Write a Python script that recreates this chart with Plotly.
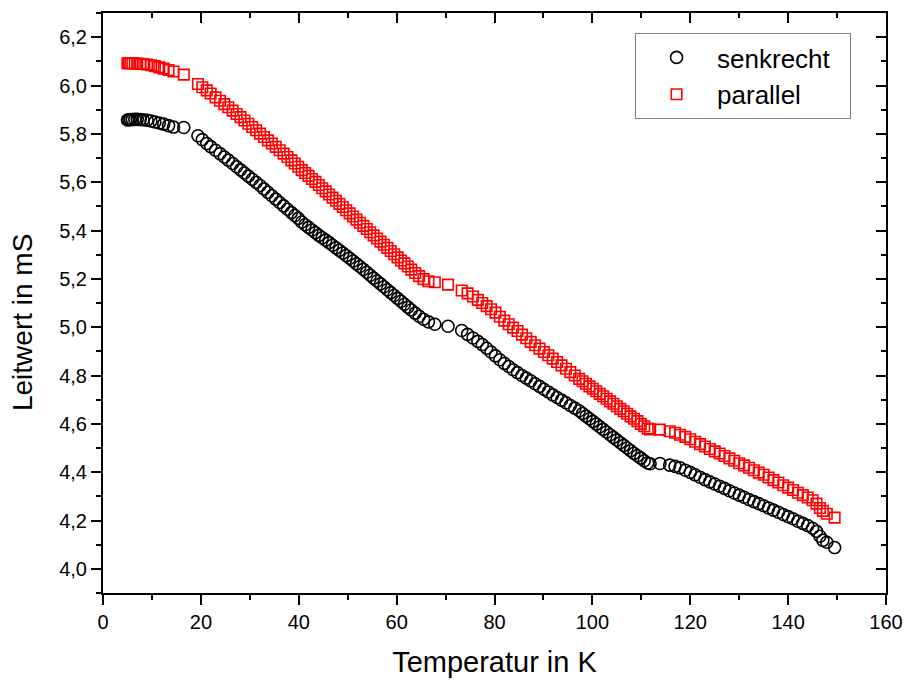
import plotly.graph_objects as go

# Temperatur-Messpunkte (K), gemeinsam für beide Orientierungen
temperatur = [
    5.0, 5.3, 5.6, 6.0, 6.5, 7.0, 7.6, 8.2, 9.0, 9.8, 10.6, 11.5, 12.4, 13.4, 14.4, 16.5,
    19.4, 20.3, 21.2, 22.0, 23.0, 23.9, 24.8, 25.6, 26.5, 27.3, 28.1, 28.9, 29.7, 30.5,
    31.3, 32.1, 32.9, 33.7, 34.5, 35.3, 36.1, 36.9, 37.7, 38.5, 39.2, 39.9,
    40.6, 41.3, 42.0, 42.7, 43.4, 44.1, 44.8, 45.5, 46.2, 46.9, 47.6, 48.3, 49.0, 49.7,
    50.4, 51.1, 51.8, 52.5, 53.2, 53.9, 54.6, 55.3, 56.0, 56.7, 57.4, 58.1, 58.8, 59.5,
    60.2, 60.9, 61.6, 62.3, 63.0, 63.8, 64.6, 65.5, 66.5,
    67.8, 70.5, 73.3, 74.5, 75.6, 76.6, 77.5, 78.4, 79.3, 80.2, 81.1, 82.0, 82.9, 83.8,
    84.7, 85.6, 86.5, 87.4, 88.3, 89.2, 90.1, 91.0, 91.9, 92.8, 93.7, 94.6, 95.5, 96.4, 97.3,
    98.0, 98.7, 99.4, 100.1, 100.8, 101.5, 102.2, 102.9, 103.6, 104.3, 105.0, 105.7, 106.4,
    107.1, 107.8, 108.5, 109.2, 109.9, 110.6, 111.3, 111.8,
    113.8, 115.8, 116.9, 117.9, 119.0, 120.0, 121.0, 122.0, 123.0, 124.0, 125.0, 126.0,
    127.0, 128.0, 129.0, 130.0, 131.0, 132.0, 133.0, 134.0, 135.0, 136.0, 137.0, 138.0,
    139.0, 140.0, 141.0, 142.0, 143.0, 144.0, 145.0, 145.8, 146.5, 147.1, 147.9, 149.5,
]

# Leitwert senkrecht (mS)
senkrecht = [
    5.857, 5.858, 5.859, 5.859, 5.860, 5.860, 5.859, 5.858, 5.856, 5.853, 5.849, 5.845, 5.840, 5.834, 5.828, 5.826,
    5.792, 5.776, 5.760, 5.747, 5.732, 5.718, 5.704, 5.691, 5.677, 5.664, 5.651, 5.638, 5.625, 5.612,
    5.599, 5.586, 5.572, 5.558, 5.544, 5.530, 5.516, 5.502, 5.488, 5.474, 5.462, 5.450,
    5.435, 5.424, 5.413, 5.402, 5.391, 5.380, 5.370, 5.360, 5.350, 5.339, 5.328, 5.318, 5.307, 5.296,
    5.285, 5.274, 5.262, 5.251, 5.239, 5.227, 5.215, 5.203, 5.191, 5.179, 5.167, 5.155, 5.143, 5.131,
    5.119, 5.107, 5.095, 5.083, 5.071, 5.058, 5.045, 5.033, 5.022,
    5.012, 5.004, 4.986, 4.970, 4.955, 4.941, 4.928, 4.913, 4.897, 4.881, 4.865, 4.850, 4.837, 4.824,
    4.812, 4.800, 4.789, 4.778, 4.766, 4.755, 4.743, 4.732, 4.720, 4.709, 4.698, 4.687, 4.676, 4.665, 4.654,
    4.643, 4.632, 4.621, 4.610, 4.599, 4.588, 4.577, 4.566, 4.555, 4.544, 4.533, 4.522, 4.511,
    4.500, 4.489, 4.478, 4.468, 4.458, 4.447, 4.438, 4.435,
    4.436, 4.429, 4.424, 4.418, 4.408, 4.399, 4.389, 4.379, 4.369, 4.360, 4.351, 4.342,
    4.333, 4.323, 4.314, 4.305, 4.296, 4.287, 4.278, 4.270, 4.261, 4.252, 4.243, 4.234,
    4.225, 4.216, 4.207, 4.197, 4.188, 4.179, 4.168, 4.155, 4.135, 4.118, 4.110, 4.088,
]

# Leitwert parallel (mS)
parallel = [
    6.092, 6.092, 6.092, 6.092, 6.091, 6.091, 6.090, 6.089, 6.087, 6.084, 6.080, 6.075, 6.070, 6.064, 6.058, 6.045,
    6.006, 5.993, 5.980, 5.967, 5.951, 5.937, 5.923, 5.910, 5.896, 5.882, 5.869, 5.855, 5.842, 5.828,
    5.815, 5.801, 5.787, 5.773, 5.760, 5.746, 5.732, 5.718, 5.704, 5.690, 5.677, 5.664,
    5.650, 5.638, 5.626, 5.613, 5.601, 5.588, 5.575, 5.562, 5.549, 5.536, 5.523, 5.510, 5.497, 5.484,
    5.471, 5.458, 5.445, 5.432, 5.419, 5.406, 5.393, 5.380, 5.367, 5.354, 5.341, 5.328, 5.315, 5.302,
    5.289, 5.276, 5.264, 5.251, 5.238, 5.224, 5.211, 5.199, 5.190,
    5.186, 5.176, 5.152, 5.140, 5.127, 5.113, 5.100, 5.087, 5.074, 5.060, 5.043, 5.027, 5.012, 4.998,
    4.984, 4.969, 4.954, 4.939, 4.925, 4.911, 4.897, 4.884, 4.870, 4.856, 4.842, 4.828, 4.814, 4.800, 4.786,
    4.776, 4.766, 4.755, 4.745, 4.735, 4.724, 4.714, 4.704, 4.693, 4.683, 4.673, 4.662, 4.652,
    4.642, 4.631, 4.621, 4.611, 4.600, 4.590, 4.580, 4.577,
    4.576, 4.569, 4.563, 4.555, 4.546, 4.536, 4.526, 4.516, 4.506, 4.496, 4.486, 4.477,
    4.467, 4.457, 4.447, 4.437, 4.428, 4.418, 4.408, 4.398, 4.389, 4.378, 4.367, 4.357,
    4.346, 4.336, 4.326, 4.315, 4.305, 4.295, 4.284, 4.270, 4.252, 4.240, 4.228, 4.212,
]

x_range = [0, 160]
y_range = [3.9, 6.3]

FONT = "Arial, Liberation Sans, sans-serif"
PAD = "\u00a0\u00a0"  # a little room after the legend text

fig = go.Figure()

fig.add_trace(go.Scatter(
    x=temperatur, y=senkrecht, mode="markers", name="senkrecht" + PAD,
    marker=dict(symbol="circle-open", size=12, color="black", line=dict(width=1.6, color="black")),
))
fig.add_trace(go.Scatter(
    x=temperatur, y=parallel, mode="markers", name="parallel",
    marker=dict(symbol="square-open", size=10.5, color="red", line=dict(width=1.6, color="red")),
))
# empty trace that carries the top/right tick axes
fig.add_trace(go.Scatter(x=[None], y=[None], xaxis="x2", yaxis="y2",
                         showlegend=False, hoverinfo="skip"))

axis_common = dict(
    showgrid=False, zeroline=False, showline=True, linecolor="black", linewidth=2,
    ticks="outside", ticklen=10, tickwidth=2, tickcolor="black", automargin=False,
    tickfont=dict(family=FONT, size=20, color="black"),
)

fig.update_layout(
    width=907, height=684,
    margin=dict(l=103, r=21, t=13, b=91),
    paper_bgcolor="white", plot_bgcolor="white",
    separators=",.",
    font=dict(family=FONT, color="black"),
    xaxis=dict(
        range=x_range, tick0=0, dtick=20, mirror=True,
        minor=dict(dtick=10, ticklen=5, tickwidth=2, ticks="outside", tickcolor="black"),
        title=dict(text="Temperatur in K", font=dict(family=FONT, size=29), standoff=20),
        **axis_common,
    ),
    yaxis=dict(
        range=y_range, tick0=4.0, dtick=0.2, tickformat=".1f", mirror=True,
        minor=dict(dtick=0.1, ticklen=5, tickwidth=2, ticks="outside", tickcolor="black"),
        **axis_common,
    ),
    xaxis2=dict(
        range=x_range, overlaying="x", side="top", anchor="y", tick0=0, dtick=20,
        showgrid=False, zeroline=False, showline=False, showticklabels=False, automargin=False,
        ticks="inside", ticklen=10, tickwidth=2, tickcolor="black",
        minor=dict(dtick=10, ticklen=5, tickwidth=2, ticks="inside", tickcolor="black"),
    ),
    yaxis2=dict(
        range=y_range, overlaying="y", side="right", anchor="x", tick0=4.0, dtick=0.2,
        showgrid=False, zeroline=False, showline=False, showticklabels=False, automargin=False,
        ticks="inside", ticklen=10, tickwidth=2, tickcolor="black",
        minor=dict(dtick=0.1, ticklen=5, tickwidth=2, ticks="inside", tickcolor="black"),
    ),
    legend=dict(
        x=0.6795, y=0.9655, xanchor="left", yanchor="top",
        bgcolor="white", bordercolor="#7f7f7f", borderwidth=1,
        font=dict(family=FONT, size=26, color="black"),
        itemwidth=71,
    ),
    showlegend=True,
    annotations=[dict(
        text="Leitwert in mS", textangle=-90, showarrow=False,
        xref="paper", yref="paper", x=-0.1034, y=0.4655,
        xanchor="center", yanchor="middle",
        font=dict(family=FONT, size=28, color="black"),
    )],
)

fig.write_html("out.html")
